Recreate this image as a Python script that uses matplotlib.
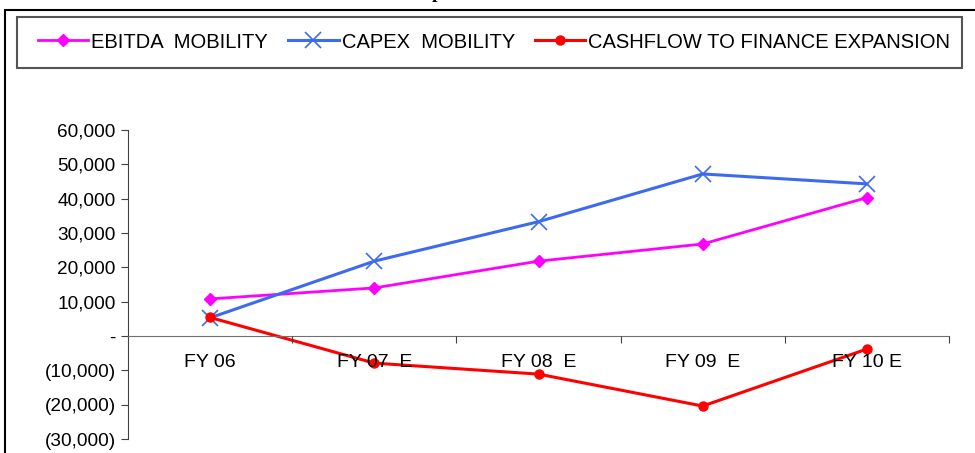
import matplotlib.pyplot as plt
from matplotlib.patches import Rectangle
from matplotlib.ticker import FuncFormatter, FixedLocator

plt.rcParams['font.family'] = ['Liberation Sans', 'DejaVu Sans']

# dane
years = ['FY 06', 'FY 07  E', 'FY 08  E', 'FY 09  E', 'FY 10 E']
ebitda = [10800, 14000, 21800, 26800, 40300]
capex = [5300, 21800, 33300, 47200, 44300]
cashflow = [5400, -7900, -11100, -20400, -3800]

yticks = [-30000, -20000, -10000, 0, 10000, 20000, 30000, 40000, 50000, 60000]


def fmtAcc(v, pos=None):
    """Format ksiegowy: nawiasy dla ujemnych, '-' dla zera"""
    if v == 0:
        return '-'
    if v < 0:
        return '({:,.0f})'.format(-v)
    return '{:,.0f}'.format(v)


W, H = 975, 453
fig = plt.figure(figsize=(W / 100, H / 100), dpi=100)
ax = fig.add_axes([128 / W, 1 - 439 / H, (949 - 128) / W, (439 - 130) / H])

x = list(range(len(years)))
l1, = ax.plot(x, ebitda, color='#FF00FF', lw=2, marker='D', ms=6, label='EBITDA  MOBILITY')
l2, = ax.plot(x, capex, color='#3D6BF0', lw=2.2, marker='x', ms=11, mew=1.2, label='CAPEX  MOBILITY')
l3, = ax.plot(x, cashflow, color='#FF0000', lw=2.2, marker='o', ms=6.5, label='CASHFLOW TO FINANCE EXPANSION')

ax.set_xlim(-0.5, len(years) - 0.5)
ax.set_ylim(yticks[0], yticks[-1])
ax.set_yticks(yticks)
ax.yaxis.set_major_formatter(FuncFormatter(fmtAcc))

# os X na poziomie zera, kreski pomiedzy kategoriami
ax.spines['bottom'].set_position(('data', 0))
ax.spines['bottom'].set_color('#707070')
ax.spines['top'].set_visible(False)
ax.spines['right'].set_visible(False)
ax.spines['left'].set_color('#404040')
ax.xaxis.set_major_locator(FixedLocator([i + 0.5 for i in x]))
ax.xaxis.set_major_formatter(FuncFormatter(lambda v, p: ''))
ax.set_xticks(x, years, minor=True)
ax.tick_params(axis='x', which='major', direction='out', length=5, color='#404040')
ax.tick_params(axis='x', which='minor', length=0, pad=13, labelsize=14)
ax.tick_params(axis='y', direction='out', length=5, color='#404040', labelsize=13.7, pad=4)
ax.xaxis.set_zorder(5)   # podpisy kategorii nad liniami, jak w oryginale

# ramka calego wykresu i ramka legendy
fig.patches.append(Rectangle((5 / W, -0.1), 1.2, 1 - 10 / H + 0.1, transform=fig.transFigure,
                             fill=False, edgecolor='black', lw=1.5))
fig.patches.append(Rectangle((17 / W, 1 - 68 / H), (962 - 17) / W, 51 / H, transform=fig.transFigure,
                             fill=False, edgecolor='#555555', lw=1.5))

fig.legend(handles=[l1, l2, l3], loc='center left', bbox_to_anchor=(38 / W, 1 - 42 / H),
           ncol=3, frameon=False, fontsize=14.5, handlelength=2.5, handletextpad=0.15,
           columnspacing=1.0, borderaxespad=0, borderpad=0)

# ucięty tytul u gory
fig.text(437 / W, 1 + 2 / H, 'p', fontsize=14, fontweight='bold', family='Liberation Serif',
         ha='center', va='baseline')

fig.savefig('out.png', dpi=100)
